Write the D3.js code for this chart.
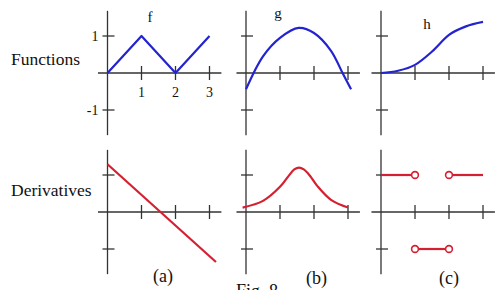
<!DOCTYPE html>
<html>
<head>
<meta charset="utf-8">
<script src="https://cdn.jsdelivr.net/npm/d3@7"></script>
<style>
  body { margin: 0; background: #fff; }
  svg { display: block; font-family: "Liberation Serif", "DejaVu Serif", serif; }
</style>
</head>
<body>
<div id="chart"></div>
<script>
// функции (верхний ряд), t -> y
const fPoints = [[0, 0], [1, 1], [2, 0], [3, 1]];
const gPoints = [[0, -0.44], [0.5, 0.45], [1, 0.95], [1.55, 1.22], [2, 1.08], [2.5, 0.6], [2.84, 0], [3.09, -0.44]];
const hPoints = [[0, 0], [0.5, 0.06], [1, 0.22], [1.5, 0.58], [2, 1.03], [2.5, 1.26], [3, 1.38]];

// производные (нижний ряд)
const aPoints = [[0, 1.29], [3.19, -1.35]];
const bPoints = [[-0.1, 0.12], [0.5, 0.3], [1, 0.68], [1.25, 0.97], [1.42, 1.15], [1.56, 1.2], [1.7, 1.15], [1.88, 0.98], [2.1, 0.7], [2.5, 0.33], [3, 0.12]];
const cSegments = [
  { from: [0, 1], to: [1, 1], openStart: false, openEnd: true },
  { from: [1, -1], to: [2, -1], openStart: true, openEnd: true },
  { from: [2, 1], to: [3, 1], openStart: true, openEnd: false }
];

const xTicks = [1, 2, 3];
const yTicks = [1, -1];
const xTickLabels = ["1", "2", "3"];
const yTickLabels = ["1", "-1"];
const rowLabels = ["Functions", "Derivatives"];
const funcNames = ["f", "g", "h"];
const panelLetters = ["(a)", "(b)", "(c)"];

const width = 498, height = 290;
const svg = d3.select("#chart").append("svg")
  .attr("width", width).attr("height", height);

const colX = [107.5, 246, 381];
const rowY = [73, 212];
const ux = 34, uy = 37;

function makeScales(col, row) {
  const x = d3.scaleLinear().domain([0, 3]).range([colX[col], colX[col] + 3 * ux]);
  const y = d3.scaleLinear().domain([-1, 1]).range([rowY[row] + uy, rowY[row] - uy]);
  return { x, y };
}

function drawAxes(s) {
  const g = svg.append("g").attr("stroke", "#333").attr("stroke-width", 1.3);
  g.append("line").attr("x1", s.x(0)).attr("x2", s.x(0))
    .attr("y1", s.y(1.68)).attr("y2", s.y(-1.68));
  g.append("line").attr("x1", s.x(-0.28)).attr("x2", s.x(3.35))
    .attr("y1", s.y(0)).attr("y2", s.y(0));
  xTicks.forEach(t => {
    g.append("line").attr("x1", s.x(t)).attr("x2", s.x(t))
      .attr("y1", s.y(0) - 7).attr("y2", s.y(0) + 7);
  });
  yTicks.forEach(t => {
    g.append("line").attr("x1", s.x(0) - 5).attr("x2", s.x(0) + 7)
      .attr("y1", s.y(t)).attr("y2", s.y(t));
  });
}

const blue = "#2323cf", red = "#d42030";

function drawCurve(s, pts, color, curve) {
  svg.append("path")
    .datum(pts)
    .attr("fill", "none")
    .attr("stroke", color)
    .attr("stroke-width", 2.2)
    .attr("stroke-linejoin", "round")
    .attr("d", d3.line().x(d => s.x(d[0])).y(d => s.y(d[1])).curve(curve));
}

// верхний ряд
const sf = makeScales(0, 0), sg = makeScales(1, 0), sh = makeScales(2, 0);
[sf, sg, sh].forEach(drawAxes);
drawCurve(sf, fPoints, blue, d3.curveLinear);
drawCurve(sg, gPoints, blue, d3.curveCatmullRom);
drawCurve(sh, hPoints, blue, d3.curveMonotoneX);

// нижний ряд
const sa = makeScales(0, 1), sb = makeScales(1, 1), sc = makeScales(2, 1);
[sa, sb, sc].forEach(drawAxes);
drawCurve(sa, aPoints, red, d3.curveLinear);
drawCurve(sb, bPoints, red, d3.curveCatmullRom.alpha(0.5));

const r = 3.4;
cSegments.forEach(seg => {
  const x1 = sc.x(seg.from[0]) + (seg.openStart ? r : 0);
  const x2 = sc.x(seg.to[0]) - (seg.openEnd ? r : 0);
  svg.append("line")
    .attr("x1", x1).attr("x2", x2)
    .attr("y1", sc.y(seg.from[1])).attr("y2", sc.y(seg.to[1]))
    .attr("stroke", red).attr("stroke-width", 2.2);
  if (seg.openStart) {
    svg.append("circle").attr("cx", sc.x(seg.from[0])).attr("cy", sc.y(seg.from[1]))
      .attr("r", r).attr("fill", "#fff").attr("stroke", red).attr("stroke-width", 1.6);
  }
  if (seg.openEnd) {
    svg.append("circle").attr("cx", sc.x(seg.to[0])).attr("cy", sc.y(seg.to[1]))
      .attr("r", r).attr("fill", "#fff").attr("stroke", red).attr("stroke-width", 1.6);
  }
});

// подписи делений только у f
xTicks.forEach((t, i) => {
  svg.append("text").attr("x", sf.x(t)).attr("y", sf.y(0) + 24)
    .attr("text-anchor", "middle").attr("font-size", 14).attr("fill", "#111")
    .text(xTickLabels[i]);
});
yTicks.forEach((t, i) => {
  svg.append("text").attr("x", sf.x(0) - 9).attr("y", sf.y(t) + 5)
    .attr("text-anchor", "end").attr("font-size", 14).attr("fill", "#111")
    .text(yTickLabels[i]);
});

// имена функций
const nameXY = [[150, 22], [278, 18], [427, 29]];
funcNames.forEach((n, i) => {
  svg.append("text").attr("x", nameXY[i][0]).attr("y", nameXY[i][1])
    .attr("text-anchor", "middle").attr("font-size", 15).attr("fill", "#111").text(n);
});

// подписи рядов
rowLabels.forEach((t, i) => {
  svg.append("text").attr("x", 11).attr("y", [65, 196][i])
    .attr("font-size", 17.5).attr("fill", "#111").text(t);
});

// буквы панелей
const letterXY = [[163, 282], [316.5, 284], [449, 284]];
panelLetters.forEach((t, i) => {
  svg.append("text").attr("x", letterXY[i][0]).attr("y", letterXY[i][1])
    .attr("text-anchor", "middle").attr("font-size", 18).attr("fill", "#111").text(t);
});

svg.append("text").attr("x", 236).attr("y", 297)
  .attr("font-size", 18).attr("fill", "#111").text("Fig. 8");
</script>
</body>
</html>
